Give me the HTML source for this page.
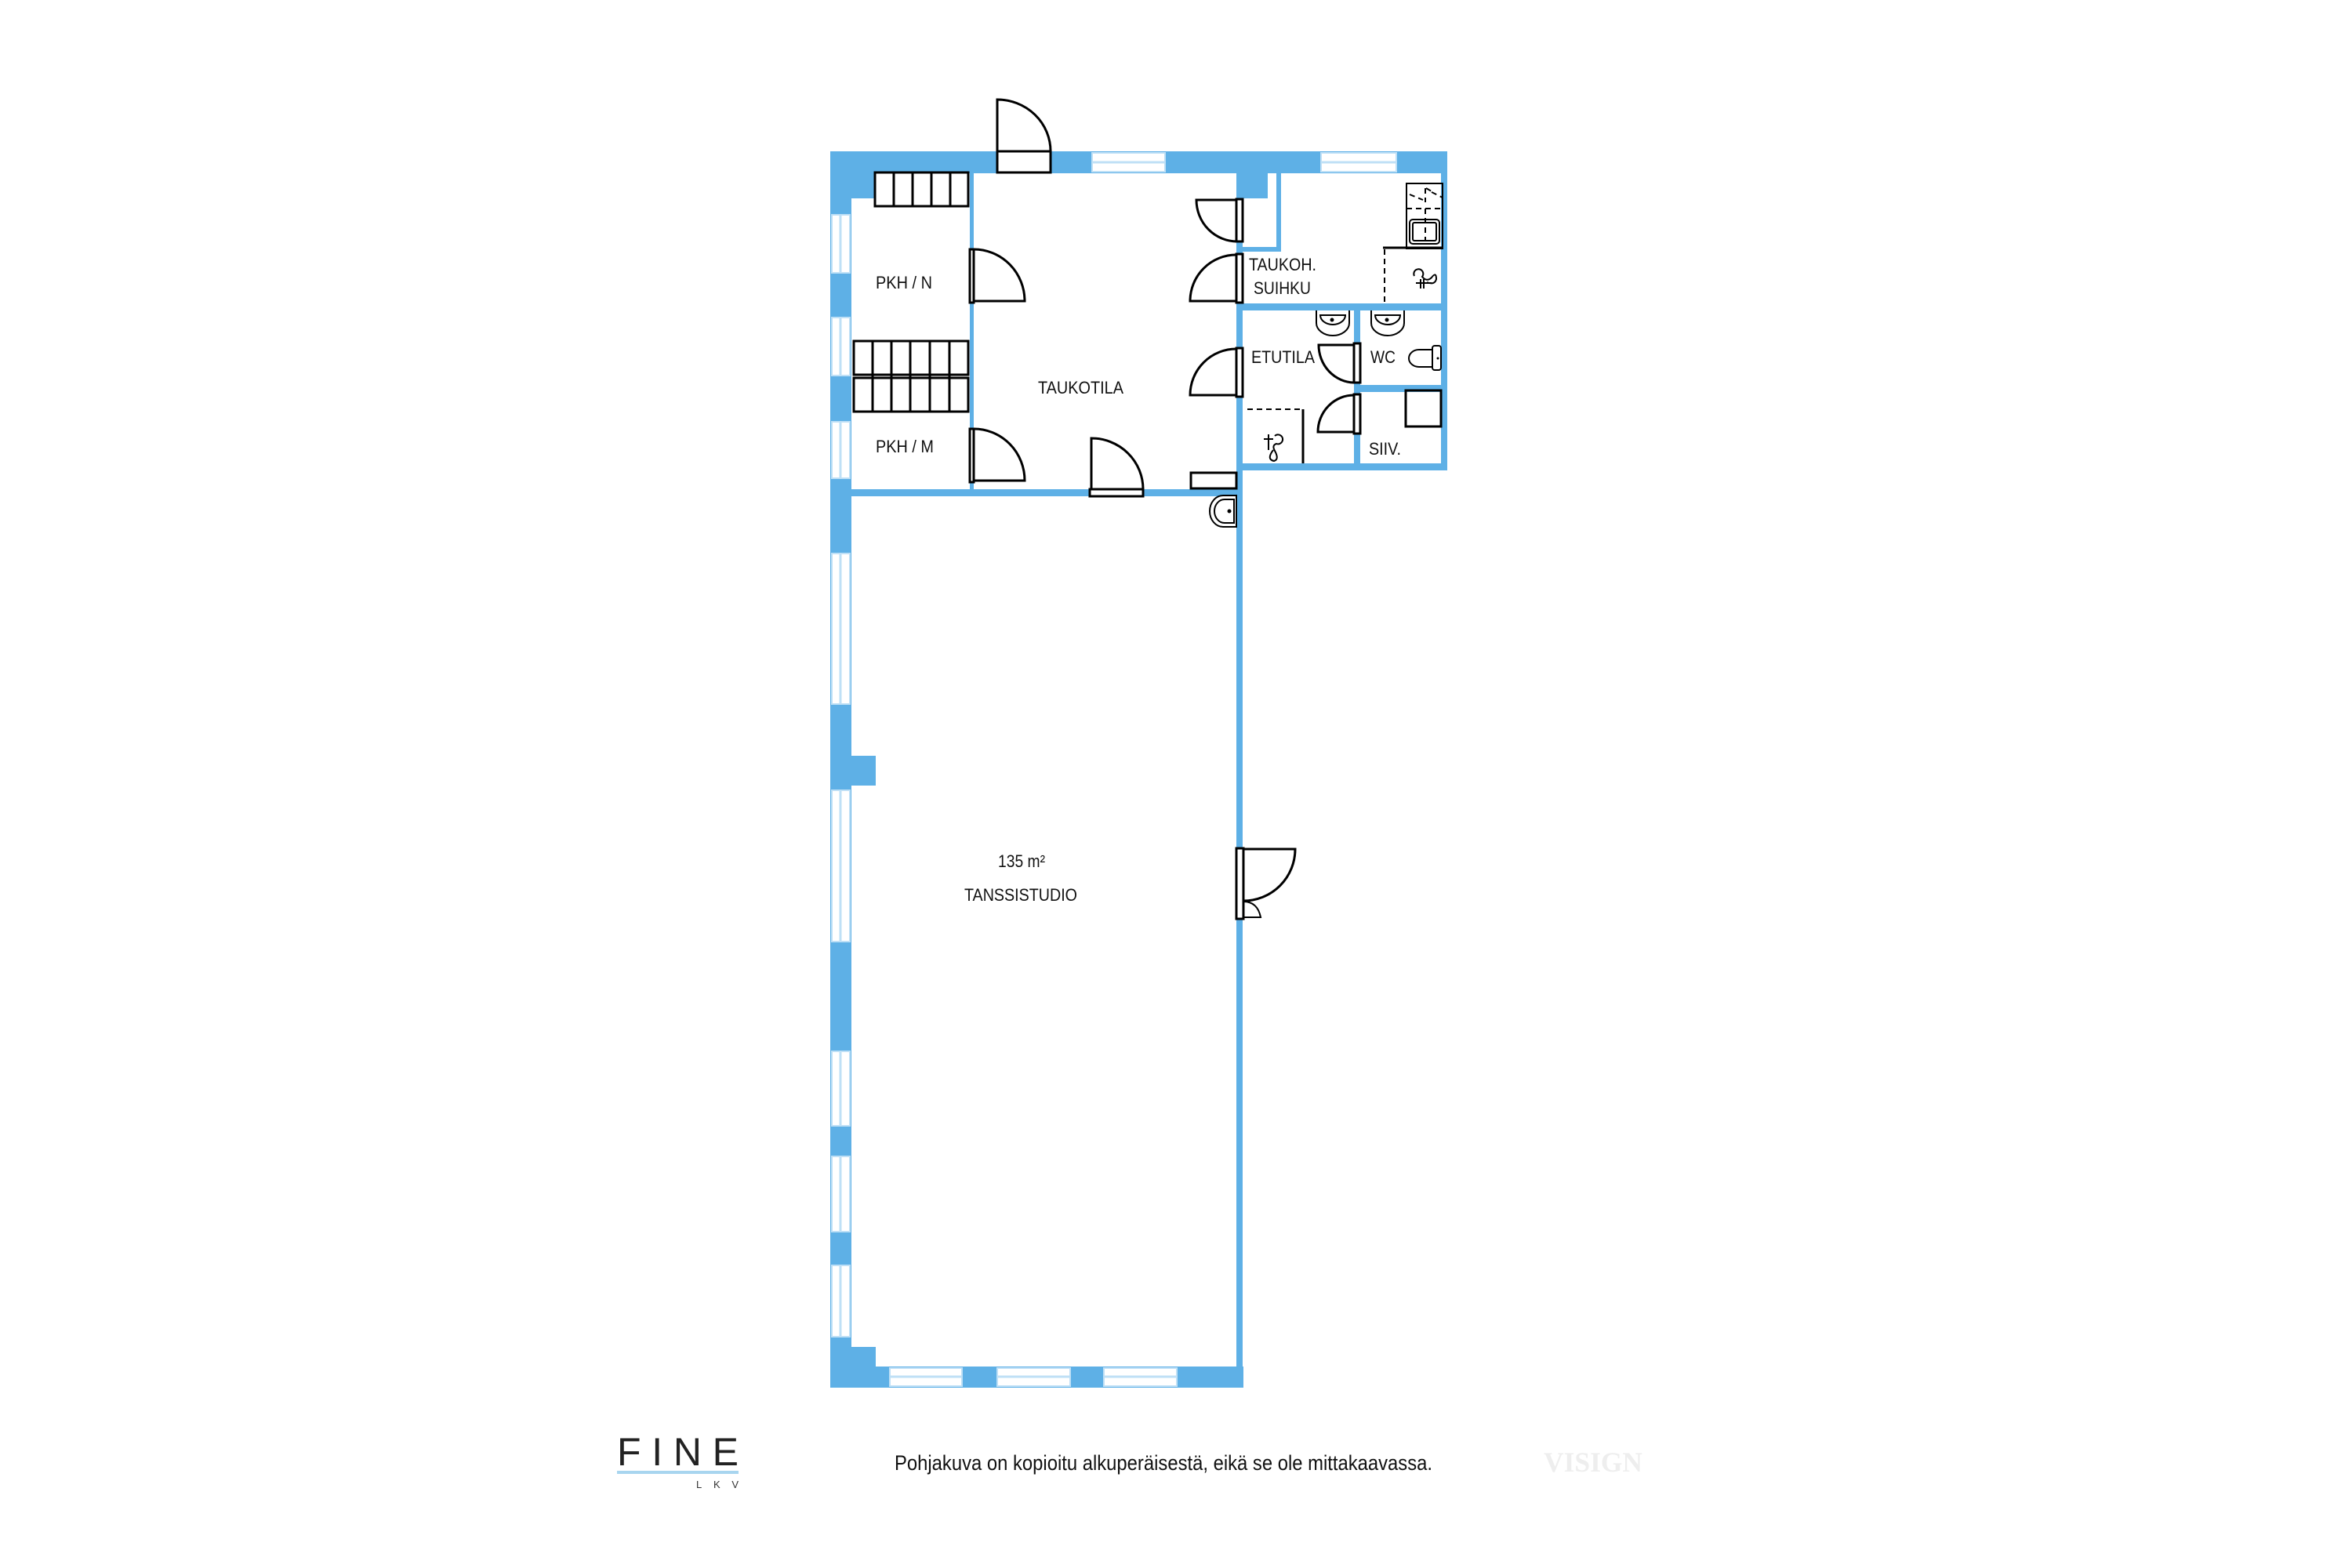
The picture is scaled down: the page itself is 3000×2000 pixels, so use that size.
<!DOCTYPE html>
<html><head><meta charset="utf-8"><style>html,body{margin:0;padding:0;background:#fff}svg{display:block}</style></head>
<body>
<svg width="3000" height="2000" viewBox="0 0 3000 2000" xmlns="http://www.w3.org/2000/svg" font-family="Liberation Sans, sans-serif">
<defs>
<style>
.w{fill:#5eb0e6}
.win{fill:#fff;stroke:#bfe0f6;stroke-width:2}
.l{fill:none;stroke:#000;stroke-width:3}
.lt{fill:none;stroke:#000;stroke-width:2}
.fr{fill:#fff;stroke:#000;stroke-width:3}
.d{fill:none;stroke:#000;stroke-width:2;stroke-dasharray:7 5}
.t{font-size:22px;fill:#111}
</style>
</defs>
<rect class="w" x="1059" y="193" width="787" height="28"/>
<rect class="w" x="1059" y="193" width="27" height="1577"/>
<rect class="w" x="1059" y="193" width="57" height="60"/>
<rect class="win" x="1393" y="195" width="93" height="24"/><line x1="1393" y1="207" x2="1486" y2="207" stroke="#bfe0f6" stroke-width="3"/>
<rect class="win" x="1685" y="195" width="96" height="24"/><line x1="1685" y1="207" x2="1781" y2="207" stroke="#bfe0f6" stroke-width="3"/>
<g>
<rect class="win" x="1061" y="274" width="23" height="74"/><line x1="1072" y1="274" x2="1072" y2="348" stroke="#bfe0f6" stroke-width="3"/>
<rect class="win" x="1061" y="405" width="23" height="74"/><line x1="1072" y1="405" x2="1072" y2="479" stroke="#bfe0f6" stroke-width="3"/>
<rect class="win" x="1061" y="538" width="23" height="72"/><line x1="1072" y1="538" x2="1072" y2="610" stroke="#bfe0f6" stroke-width="3"/>
<rect class="win" x="1061" y="706" width="23" height="192"/><line x1="1072" y1="706" x2="1072" y2="898" stroke="#bfe0f6" stroke-width="3"/>
<rect class="win" x="1061" y="1008" width="23" height="193"/><line x1="1072" y1="1008" x2="1072" y2="1201" stroke="#bfe0f6" stroke-width="3"/>
<rect class="win" x="1061" y="1341" width="23" height="95"/><line x1="1072" y1="1341" x2="1072" y2="1436" stroke="#bfe0f6" stroke-width="3"/>
<rect class="win" x="1061" y="1475" width="23" height="96"/><line x1="1072" y1="1475" x2="1072" y2="1571" stroke="#bfe0f6" stroke-width="3"/>
<rect class="win" x="1061" y="1614" width="23" height="91"/><line x1="1072" y1="1614" x2="1072" y2="1705" stroke="#bfe0f6" stroke-width="3"/>
</g>
<rect class="w" x="1086" y="964" width="31" height="38"/>
<rect class="w" x="1059" y="1743" width="527" height="27"/>
<rect class="w" x="1059" y="1718" width="58" height="52"/>
<rect class="win" x="1135" y="1745" width="92" height="23"/><line x1="1135" y1="1756" x2="1227" y2="1756" stroke="#bfe0f6" stroke-width="3"/>
<rect class="win" x="1272" y="1745" width="93" height="23"/><line x1="1272" y1="1756" x2="1365" y2="1756" stroke="#bfe0f6" stroke-width="3"/>
<rect class="win" x="1408" y="1745" width="93" height="23"/><line x1="1408" y1="1756" x2="1501" y2="1756" stroke="#bfe0f6" stroke-width="3"/>
<rect class="w" x="1577" y="193" width="8" height="1577"/>
<rect class="w" x="1577" y="220" width="40" height="33"/>
<rect class="w" x="1628" y="220" width="6" height="101"/>
<rect class="w" x="1585" y="315" width="49" height="6"/>
<rect class="w" x="1838" y="193" width="8" height="407"/>
<rect class="w" x="1585" y="387" width="261" height="9"/>
<rect class="w" x="1727" y="396" width="8" height="204"/>
<rect class="w" x="1735" y="491" width="111" height="9"/>
<rect class="w" x="1585" y="591" width="261" height="9"/>
<rect class="w" x="1237" y="220" width="5" height="412"/>
<rect class="w" x="1086" y="624" width="499" height="9"/>
<rect class="fr" x="1272" y="193" width="68" height="27"/>
<path class="l" d="M1272 193 V127 A68 66 0 0 1 1340 193"/>
<g class="l">
<rect x="1116" y="220" width="119" height="43"/>
<line x1="1140" y1="220" x2="1140" y2="263"/><line x1="1164" y1="220" x2="1164" y2="263"/><line x1="1188" y1="220" x2="1188" y2="263"/><line x1="1212" y1="220" x2="1212" y2="263"/>
<rect x="1089" y="435" width="146" height="43"/><rect x="1089" y="482" width="146" height="43"/>
<line x1="1113" y1="435" x2="1113" y2="525"/><line x1="1137" y1="435" x2="1137" y2="525"/><line x1="1161" y1="435" x2="1161" y2="525"/><line x1="1186" y1="435" x2="1186" y2="525"/><line x1="1211" y1="435" x2="1211" y2="525"/>
</g>
<rect class="fr" x="1237" y="318" width="5" height="68"/><path class="l" d="M1242 318 A65 66 0 0 1 1307 384 H1242"/>
<rect class="fr" x="1237" y="547" width="5" height="68"/><path class="l" d="M1242 547 A65 66 0 0 1 1307 613 H1242"/>
<rect class="fr" x="1390" y="624" width="68" height="9"/><path class="l" d="M1392 624 V559 A66 65 0 0 1 1458 624"/>
<rect class="fr" x="1577" y="254" width="8" height="54"/><path class="l" d="M1577 255 H1526 A52 53 0 0 0 1578 308"/>
<rect class="fr" x="1577" y="324" width="8" height="62"/><path class="l" d="M1577 325 A59 59 0 0 0 1518 384 H1577"/>
<rect class="fr" x="1577" y="444" width="8" height="62"/><path class="l" d="M1577 445 A59 59 0 0 0 1518 504 H1577"/>
<rect class="fr" x="1519" y="603" width="58" height="20"/>
<path class="lt" d="M1577 632 H1560 A17 20 0 0 0 1560 672 H1577 Z"/><path class="lt" d="M1574 637 H1562 A13 15 0 0 0 1562 667 H1574 Z"/><circle cx="1568" cy="652" r="2.5"/>
<rect class="fr" x="1727" y="438" width="8" height="50"/><path class="l" d="M1727 440 H1682 A46 48 0 0 0 1727 488"/>
<rect class="fr" x="1727" y="503" width="8" height="50"/><path class="l" d="M1727 504 A46 47 0 0 0 1681 551 H1727"/>
<path class="lt" d="M1679 396 V412 A21 16 0 0 0 1721 412 V396"/><path class="lt" d="M1684 402 A16 12 0 0 0 1716 402 Z"/><circle cx="1699" cy="408" r="2.5"/>
<path class="lt" d="M1749 396 V412 A21 16 0 0 0 1791 412 V396"/><path class="lt" d="M1754 402 A16 12 0 0 0 1786 402 Z"/><circle cx="1769" cy="408" r="2.5"/>
<rect class="lt" x="1827" y="441" width="11" height="31" rx="3"/><path class="lt" d="M1827 446 H1810 A13 11 0 0 0 1810 468 H1827"/><circle cx="1834" cy="457" r="1.5"/>
<rect class="l" x="1793" y="498" width="45" height="46"/>
<text class="t" x="1746" y="580" textLength="41" lengthAdjust="spacingAndGlyphs">SIIV.</text>
<path class="d" d="M1591 522 H1660"/><path class="l" d="M1662 522 V591"/>
<path class="lt" d="M1612 560 H1624 M1618 554 V574 M1624 574 Q1615 586 1625 588 Q1632 586 1626 575 Q1622 568 1628 566 A6 6 0 1 0 1626 556"/>
<rect class="lt" x="1794" y="234" width="46" height="83"/>
<path class="d" d="M1794 266 H1840 M1798 248 L1815 255 M1818 240 V258 M1819 240 L1826 244 M1826 245 L1840 252 M1818 266 V308"/>
<rect class="lt" x="1798" y="280" width="38" height="31" rx="4"/><rect class="lt" x="1802" y="284" width="30" height="23" rx="2"/>
<path class="l" d="M1764 316 H1840"/>
<path class="d" d="M1766 318 V386"/>
<path class="lt" d="M1804 352 A6 6 0 1 1 1814 353 Q1820 360 1826 354 Q1832 346 1832 356 Q1830 364 1820 360 M1806 361 H1826 M1812 356 V368 M1816 356 V368"/>
<rect class="fr" x="1577" y="1082" width="9" height="90"/>
<path class="l" d="M1586 1083 H1652 A66 66 0 0 1 1586 1149"/>
<path class="lt" d="M1586 1150 Q1604 1150 1608 1170 H1586"/>
<text class="t" x="1117" y="368" textLength="72" lengthAdjust="spacingAndGlyphs">PKH / N</text>
<text class="t" x="1117" y="577" textLength="74" lengthAdjust="spacingAndGlyphs">PKH / M</text>
<text class="t" x="1324" y="502" textLength="109" lengthAdjust="spacingAndGlyphs">TAUKOTILA</text>
<text class="t" x="1593" y="345" textLength="86" lengthAdjust="spacingAndGlyphs">TAUKOH.</text>
<text class="t" x="1599" y="375" textLength="73" lengthAdjust="spacingAndGlyphs">SUIHKU</text>
<text class="t" x="1596" y="463" textLength="81" lengthAdjust="spacingAndGlyphs">ETUTILA</text>
<text class="t" x="1748" y="463" textLength="32" lengthAdjust="spacingAndGlyphs">WC</text>
<text class="t" x="1273" y="1106" textLength="60" lengthAdjust="spacingAndGlyphs">135 m²</text>
<text class="t" x="1230" y="1149" textLength="144" lengthAdjust="spacingAndGlyphs">TANSSISTUDIO</text>
<text x="787" y="1869" font-size="50" fill="#222" textLength="155" lengthAdjust="spacing">FINE</text>
<rect x="787" y="1876" width="155" height="4" fill="#a8d5ef"/>
<text x="888" y="1898" font-size="13" fill="#333" textLength="54" lengthAdjust="spacing">LKV</text>
<text x="1141" y="1875" font-size="27" fill="#111" textLength="686" lengthAdjust="spacingAndGlyphs">Pohjakuva on kopioitu alkuperäisestä, eikä se ole mittakaavassa.</text>
<text x="1969" y="1877" font-family="Liberation Serif, serif" font-weight="bold" font-size="36" fill="#eeeeee" textLength="126" lengthAdjust="spacingAndGlyphs">VISIGN</text>
</svg>
</body></html>
